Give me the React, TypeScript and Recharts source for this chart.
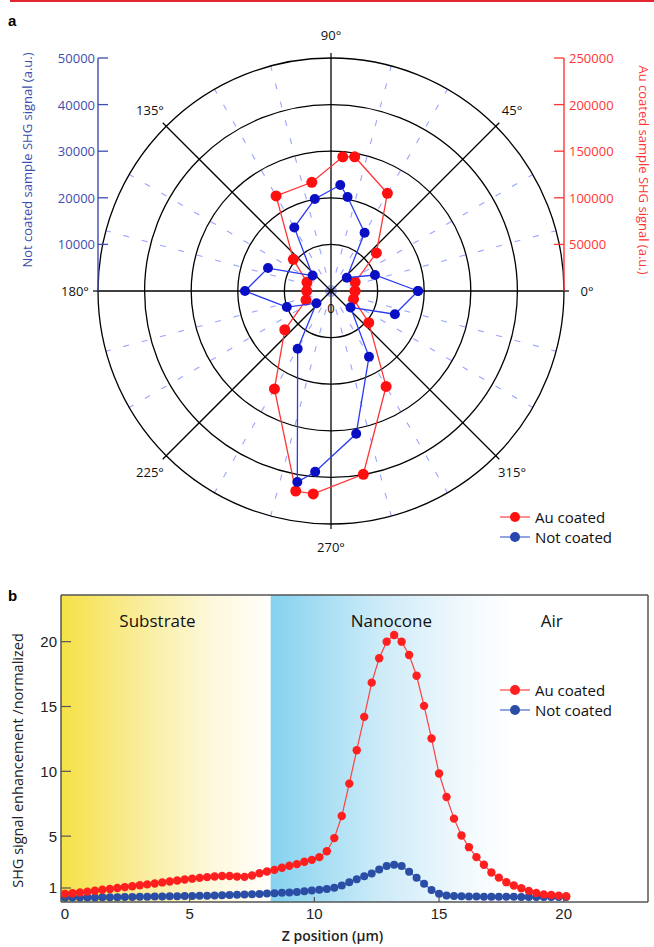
import React from 'react';
import {
  ScatterChart, Scatter, XAxis, YAxis, ReferenceLine, ReferenceDot, Legend,
  RadarChart, PolarGrid, PolarAngleAxis, PolarRadiusAxis, Radar,
  LineChart, Line, ReferenceArea,
} from 'recharts';

// ---------------- Panel a: polar SHG data ----------------
const polarAngleDeg = [0, 20, 40, 60, 80, 85, 100, 120, 140, 160, 180, 200, 220, 240, 260, 265, 280, 300, 320, 340];
const notCoatedSignal = [18670, 10040, 4420, 14420, 20490, 22830, 20040, 15750, 5150, 14380, 18460, 10090, 4080, 14310, 41630, 38950, 31120, 16310, 5470, 14590];
const auCoatedSignal = [25750, 27580, 63520, 121030, 146250, 144530, 118460, 117820, 52790, 27470, 26070, 28540, 64700, 121360, 217930, 218570, 199690, 118240, 52900, 25750];
const angleLabels = ['90°', '45°', '0°', '315°', '270°', '225°', '180°', '135°'];
const dashedGuideAngles = [15, 30, 60, 75, 105, 120, 150, 165, 195, 210, 240, 255, 285, 300, 330, 345];
const notCoatedTicks = [10000, 20000, 30000, 40000, 50000];
const auCoatedTicks = [50000, 100000, 150000, 200000, 250000];

// ---------------- Panel b: Z profile data ----------------
const zPosition = [0, 0.3, 0.6, 0.9, 1.2, 1.5, 1.8, 2.1, 2.4, 2.7, 3.0, 3.3, 3.6, 3.9, 4.2, 4.5, 4.8, 5.1, 5.4, 5.7,
  6.0, 6.3, 6.6, 6.9, 7.2, 7.5, 7.8, 8.1, 8.4, 8.7, 9.0, 9.3, 9.6, 9.9, 10.2, 10.5, 10.8, 11.1, 11.4, 11.7,
  12.0, 12.3, 12.6, 12.9, 13.2, 13.5, 13.8, 14.1, 14.4, 14.7, 15.0, 15.3, 15.6, 15.9, 16.2, 16.5, 16.8, 17.1, 17.4, 17.7,
  18.0, 18.3, 18.6, 18.9, 19.2, 19.5, 19.8, 20.1];
const auCoatedProfile = [0.55, 0.6, 0.66, 0.72, 0.79, 0.86, 0.93, 1.0, 1.07, 1.14, 1.21, 1.28, 1.35, 1.43, 1.5, 1.58, 1.65, 1.72, 1.78, 1.84,
  1.89, 1.93, 1.92, 1.88, 1.86, 1.96, 2.14, 2.27, 2.4, 2.56, 2.72, 2.84, 3.02, 3.17, 3.38, 3.84, 4.85, 6.55, 9.05, 11.63,
  14.2, 16.84, 18.72, 20.0, 20.52, 20.0, 18.97, 17.37, 15.05, 12.53, 9.83, 8.02, 6.35, 5.05, 4.15, 3.38, 2.79, 2.2, 1.8, 1.45,
  1.19, 0.98, 0.78, 0.62, 0.51, 0.46, 0.41, 0.36];
const notCoatedProfile = [0.25, 0.26, 0.26, 0.27, 0.27, 0.28, 0.29, 0.29, 0.3, 0.31, 0.32, 0.33, 0.34, 0.35, 0.36, 0.37, 0.38, 0.39, 0.4, 0.41,
  0.42, 0.44, 0.46, 0.48, 0.5, 0.52, 0.54, 0.57, 0.6, 0.63, 0.66, 0.7, 0.74, 0.8, 0.86, 0.93, 1.02, 1.19, 1.45, 1.68,
  1.9, 2.12, 2.42, 2.7, 2.8, 2.7, 2.25, 1.8, 1.32, 0.85, 0.56, 0.43, 0.38, 0.36, 0.35, 0.34, 0.33, 0.33, 0.32, 0.32,
  0.32, 0.31, 0.31, 0.31, 0.31, 0.3, 0.3, 0.3];
const profileXTicks = [0, 5, 10, 15, 20];
const profileYTicks = [1, 5, 10, 15, 20];
const regionLabels = [
  { name: 'Substrate', z: 3.71 },
  { name: 'Nanocone', z: 13.09 },
  { name: 'Air', z: 19.52 },
];
const substrateEnd = 8.25;
const nanoconeFadeEnd = 18;

// ---------------- styling ----------------
const FONT = '"Open Sans", "Noto Sans", sans-serif';
const TICKFONT = '"Liberation Sans", Arial, sans-serif';
const BLUE_AXIS = '#3c4eae';
const RED_AXIS = '#ff3535';
const CX = 331, CY = 291, R = 233;
const TOP_W = 654, TOP_H = 570;

const toCartesian = (angles: number[], radii: number[]) => {
  const pts = angles.map((a, i) => ({
    x: radii[i] * Math.cos((a * Math.PI) / 180),
    y: radii[i] * Math.sin((a * Math.PI) / 180),
  }));
  return [...pts, pts[0]];
};
const notCoatedPoints = toCartesian(polarAngleDeg, notCoatedSignal);
const auCoatedPoints = toCartesian(polarAngleDeg, auCoatedSignal);
const gridRows = angleLabels.map((label) => ({ label, zero: 0 }));
const profileRows = zPosition.map((z, i) => ({ z, au: auCoatedProfile[i], nc: notCoatedProfile[i] }));

const legendOrder = ['Au coated', 'Not coated'];

const makeLegend = (colors: Record<string, string>, lineColors: Record<string, string>) => (props: any) => {
  const payload = props.payload || [];
  const rows = legendOrder.filter((n) => payload.some((p: any) => p.value === n));
  return (
    <div style={{ fontFamily: FONT, fontSize: 15, color: '#111', lineHeight: '20px' }}>
      {rows.map((n) => (
        <div key={n} style={{ display: 'flex', alignItems: 'center', height: 20 }}>
          <svg width={32} height={14} style={{ display: 'block' }}>
            <line x1={1} y1={7} x2={31} y2={7} stroke={lineColors[n]} strokeWidth={1.5} />
            <circle cx={16} cy={7} r={5} fill={colors[n]} />
          </svg>
          <span style={{ marginLeft: 4 }}>{n}</span>
        </div>
      ))}
    </div>
  );
};

const topLegend = makeLegend({ 'Au coated': '#ff1010', 'Not coated': '#2846b0' }, { 'Au coated': '#ff6a6a', 'Not coated': '#6f86d8' });
const bottomLegend = makeLegend({ 'Au coated': '#ff1f1f', 'Not coated': '#2a4da6' }, { 'Au coated': '#ff6a6a', 'Not coated': '#6f86d8' });

const AngleTick = (props: any) => {
  const { x, y, payload } = props;
  const dx = x - CX;
  const dy = y - CY;
  const d = Math.hypot(dx, dy) || 1;
  const ux = dx / d;
  const uy = dy / d;
  return (
    <g>
      <line x1={CX + ux * R} y1={CY + uy * R} x2={CX + ux * (R + 5)} y2={CY + uy * (R + 5)} stroke="#000" strokeWidth={1.2} />
      <text x={x} y={y} textAnchor="middle" dominantBaseline="central" fontSize={13} fontFamily={FONT} fill="#111">
        {payload.value}
      </text>
    </g>
  );
};

const BlueTick = (props: any) => {
  const { x, y, payload } = props;
  return (
    <g>
      <line x1={x} y1={y} x2={x + 10} y2={y} stroke={BLUE_AXIS} strokeWidth={1.3} />
      <text x={x - 3} y={y} textAnchor="end" dominantBaseline="central" fontSize={13} fontFamily={FONT} fill={BLUE_AXIS}>
        {payload.value}
      </text>
    </g>
  );
};

const RedTick = (props: any) => {
  const { x, y, payload } = props;
  return (
    <g>
      <line x1={x} y1={y} x2={x - 10} y2={y} stroke={RED_AXIS} strokeWidth={1.3} />
      <text x={x + 5} y={y} textAnchor="start" dominantBaseline="central" fontSize={13} fontFamily={FONT} fill={RED_AXIS}>
        {payload.value}
      </text>
    </g>
  );
};

const ProfileXTick = (props: any) => {
  const { x, y, payload } = props;
  return (
    <g>
      <line x1={x} y1={y} x2={x} y2={y - 5} stroke="#555" strokeWidth={1.2} />
      <text x={x} y={y + 11} textAnchor="middle" dominantBaseline="central" fontSize={15} fontFamily={TICKFONT} fill="#222">
        {payload.value}
      </text>
    </g>
  );
};

const ProfileYTick = (props: any) => {
  const { x, y, payload } = props;
  return (
    <g>
      <line x1={x} y1={y} x2={x + 10} y2={y} stroke="#555" strokeWidth={1.2} />
      <text x={x - 4} y={y} textAnchor="end" dominantBaseline="central" fontSize={15} fontFamily={TICKFONT} fill="#222">
        {payload.value}
      </text>
    </g>
  );
};

const dotShape = (color: string, r: number) => (p: any) => (
  <circle cx={p.cx} cy={p.cy} r={r} fill={color} />
);

export default function App() {
  return (
    <div style={{ position: 'relative', width: 654, height: 947, background: '#fff' }}>
      <style>{'body{margin:0;}'}</style>
      <div style={{ position: 'absolute', left: 10, top: 0, width: 644, height: 2, background: '#e3262f' }} />
      <div style={{ position: 'absolute', left: 8, top: 12, fontFamily: TICKFONT, fontWeight: 700, fontSize: 15 }}>a</div>
      <div style={{ position: 'absolute', left: 8, top: 587, fontFamily: TICKFONT, fontWeight: 700, fontSize: 15 }}>b</div>

      {/* polar grid */}
      <div style={{ position: 'absolute', left: 0, top: 0 }}>
        <RadarChart width={TOP_W} height={TOP_H} cx={CX} cy={CY} outerRadius={R} innerRadius={0} data={gridRows}
          margin={{ top: 0, right: 0, bottom: 0, left: 0 }}>
          <PolarGrid gridType="circle" polarAngles={dashedGuideAngles} polarRadius={[]} stroke="#9aa4ff" strokeWidth={1.1} strokeDasharray="6 13" />
          <PolarGrid gridType="circle" stroke="#000" strokeWidth={1.3} />
          <PolarAngleAxis dataKey="label" axisLine={false} tickLine={false} tickSize={23} tick={AngleTick} />
          <PolarRadiusAxis domain={[0, 50000]} tickCount={6} axisLine={false} tick={false} />
          <Radar dataKey="zero" stroke="none" fill="none" dot={false} isAnimationActive={false} legendType="none" />
        </RadarChart>
      </div>

      {/* polar data */}
      <div style={{ position: 'absolute', left: 0, top: 0 }}>
        <ScatterChart width={TOP_W} height={TOP_H}
          margin={{ top: CY - R, left: CX - R - 1, right: TOP_W - (CX + R) - 1, bottom: TOP_H - (CY + R) }}>
          <XAxis xAxisId="nc" type="number" dataKey="x" domain={[-50000, 50000]} hide height={0} allowDataOverflow />
          <XAxis xAxisId="au" type="number" dataKey="x" domain={[-250000, 250000]} hide height={0} allowDataOverflow />
          <YAxis yAxisId="nc" type="number" dataKey="y" domain={[-50000, 50000]} width={1} ticks={notCoatedTicks}
            interval={0} tickSize={0} tickMargin={0} axisLine={false} tickLine={false} tick={BlueTick} allowDataOverflow
            label={{ value: 'Not coated sample SHG signal (a.u.)', angle: -90, position: 'center', dx: -70, dy: -131, fill: BLUE_AXIS, fontSize: 13, fontFamily: FONT }} />
          <YAxis yAxisId="au" orientation="right" type="number" dataKey="y" domain={[-250000, 250000]} width={1} ticks={auCoatedTicks}
            interval={0} tickSize={0} tickMargin={0} axisLine={false} tickLine={false} tick={RedTick} allowDataOverflow
            label={{ value: 'Au coated sample SHG signal (a.u.)', angle: 90, position: 'center', dx: 79, dy: -121, fill: RED_AXIS, fontSize: 13, fontFamily: FONT }} />
          <ReferenceLine xAxisId="nc" yAxisId="nc" segment={[{ x: -50000, y: 0 }, { x: -50000, y: 50000 }]} stroke={BLUE_AXIS} strokeWidth={1.4} ifOverflow="visible" />
          <ReferenceLine xAxisId="au" yAxisId="au" segment={[{ x: 250000, y: 0 }, { x: 250000, y: 250000 }]} stroke={RED_AXIS} strokeWidth={1.4} ifOverflow="visible" />
          <ReferenceDot xAxisId="nc" yAxisId="nc" x={0} y={0} r={0} stroke="none" fill="none"
            label={{ value: '0', position: 'bottom', offset: 13, fontSize: 13, fontFamily: FONT, fill: '#111' }} />
          <Scatter name="Au coated" data={auCoatedPoints} xAxisId="au" yAxisId="au" fill="#ff1010"
            line={{ stroke: '#ff3333', strokeWidth: 1.3 }} lineType="joint" shape={dotShape('#ff1010', 5.5)} isAnimationActive={false} />
          <Scatter name="Not coated" data={notCoatedPoints} xAxisId="nc" yAxisId="nc" fill="#0b0fc4"
            line={{ stroke: '#2b3cf0', strokeWidth: 1.3 }} lineType="joint" shape={dotShape('#0b0fc4', 5)} isAnimationActive={false} />
          <Legend layout="vertical" align="center" verticalAlign="middle" content={topLegend}
            wrapperStyle={{ left: 499, top: 507, width: 150, height: 40 }} />
        </ScatterChart>
      </div>

      {/* panel b */}
      <div style={{ position: 'absolute', left: 0, top: 570 }}>
        <LineChart width={654} height={377} data={profileRows} margin={{ top: 24, right: 5, bottom: 44, left: 60 }}>
          <defs>
            <linearGradient id="substrateFill" x1="0" y1="0" x2="1" y2="0">
              <stop offset="0" stopColor="#f6e146" />
              <stop offset="0.35" stopColor="#f9ec95" />
              <stop offset="0.72" stopColor="#fdf8dc" />
              <stop offset="1" stopColor="#fffefb" />
            </linearGradient>
            <linearGradient id="nanoconeFill" x1="0" y1="0" x2="1" y2="0">
              <stop offset="0" stopColor="#85d2f0" />
              <stop offset="0.45" stopColor="#cdebf8" />
              <stop offset="0.8" stopColor="#f1f9fd" />
              <stop offset="1" stopColor="#ffffff" />
            </linearGradient>
          </defs>
          <XAxis type="number" dataKey="z" domain={[-0.16, 23.38]} ticks={profileXTicks} interval={0} height={1}
            tickSize={0} tickMargin={0} tickLine={false} tick={ProfileXTick} allowDataOverflow
            axisLine={{ stroke: '#555', strokeWidth: 1.5 }}
            label={{ value: 'Z position (µm)', position: 'center', dx: -22, dy: 34, fontSize: 14, fontWeight: 600, fontFamily: FONT, fill: '#222' }} />
          <XAxis xAxisId="top" orientation="top" type="number" domain={[-0.16, 23.38]} height={1} tick={false} tickLine={false}
            axisLine={{ stroke: '#555', strokeWidth: 1.5 }} />
          <YAxis type="number" domain={[-0.08, 23.6]} ticks={profileYTicks} interval={0} width={1}
            tickSize={0} tickMargin={0} tickLine={false} tick={ProfileYTick} allowDataOverflow
            axisLine={{ stroke: '#555', strokeWidth: 1.5 }}
            label={{ value: 'SHG signal enhancement /normalized', angle: -90, position: 'center', dx: -43, dy: 12, fontSize: 14.5, fontFamily: FONT, fill: '#222' }} />
          <YAxis yAxisId="right" orientation="right" type="number" domain={[-0.08, 23.6]} width={1} tick={false} tickLine={false}
            axisLine={{ stroke: '#555', strokeWidth: 1.5 }} />
          <ReferenceArea x1={-0.16} x2={substrateEnd} fill="url(#substrateFill)" fillOpacity={1} stroke="none" ifOverflow="visible" />
          <ReferenceArea x1={substrateEnd} x2={nanoconeFadeEnd} fill="url(#nanoconeFill)" fillOpacity={1} stroke="none" ifOverflow="visible" />
          {regionLabels.map((r) => (
            <ReferenceDot key={r.name} x={r.z} y={21.6} r={0} stroke="none" fill="none"
              label={{ value: r.name, position: 'center', fontSize: 17, fontFamily: FONT, fill: '#111' }} />
          ))}
          <Line name="Not coated" dataKey="nc" stroke="#4a68c0" strokeWidth={1.2}
            dot={{ r: 4, fill: '#2a4da6', stroke: 'none' }} isAnimationActive={false} />
          <Line name="Au coated" dataKey="au" stroke="#ff4040" strokeWidth={1.2}
            dot={{ r: 4.2, fill: '#ff1f1f', stroke: 'none' }} isAnimationActive={false} />
          <Legend layout="vertical" align="center" verticalAlign="middle" content={bottomLegend}
            wrapperStyle={{ left: 499, top: 110, width: 150, height: 40 }} />
        </LineChart>
      </div>
    </div>
  );
}
